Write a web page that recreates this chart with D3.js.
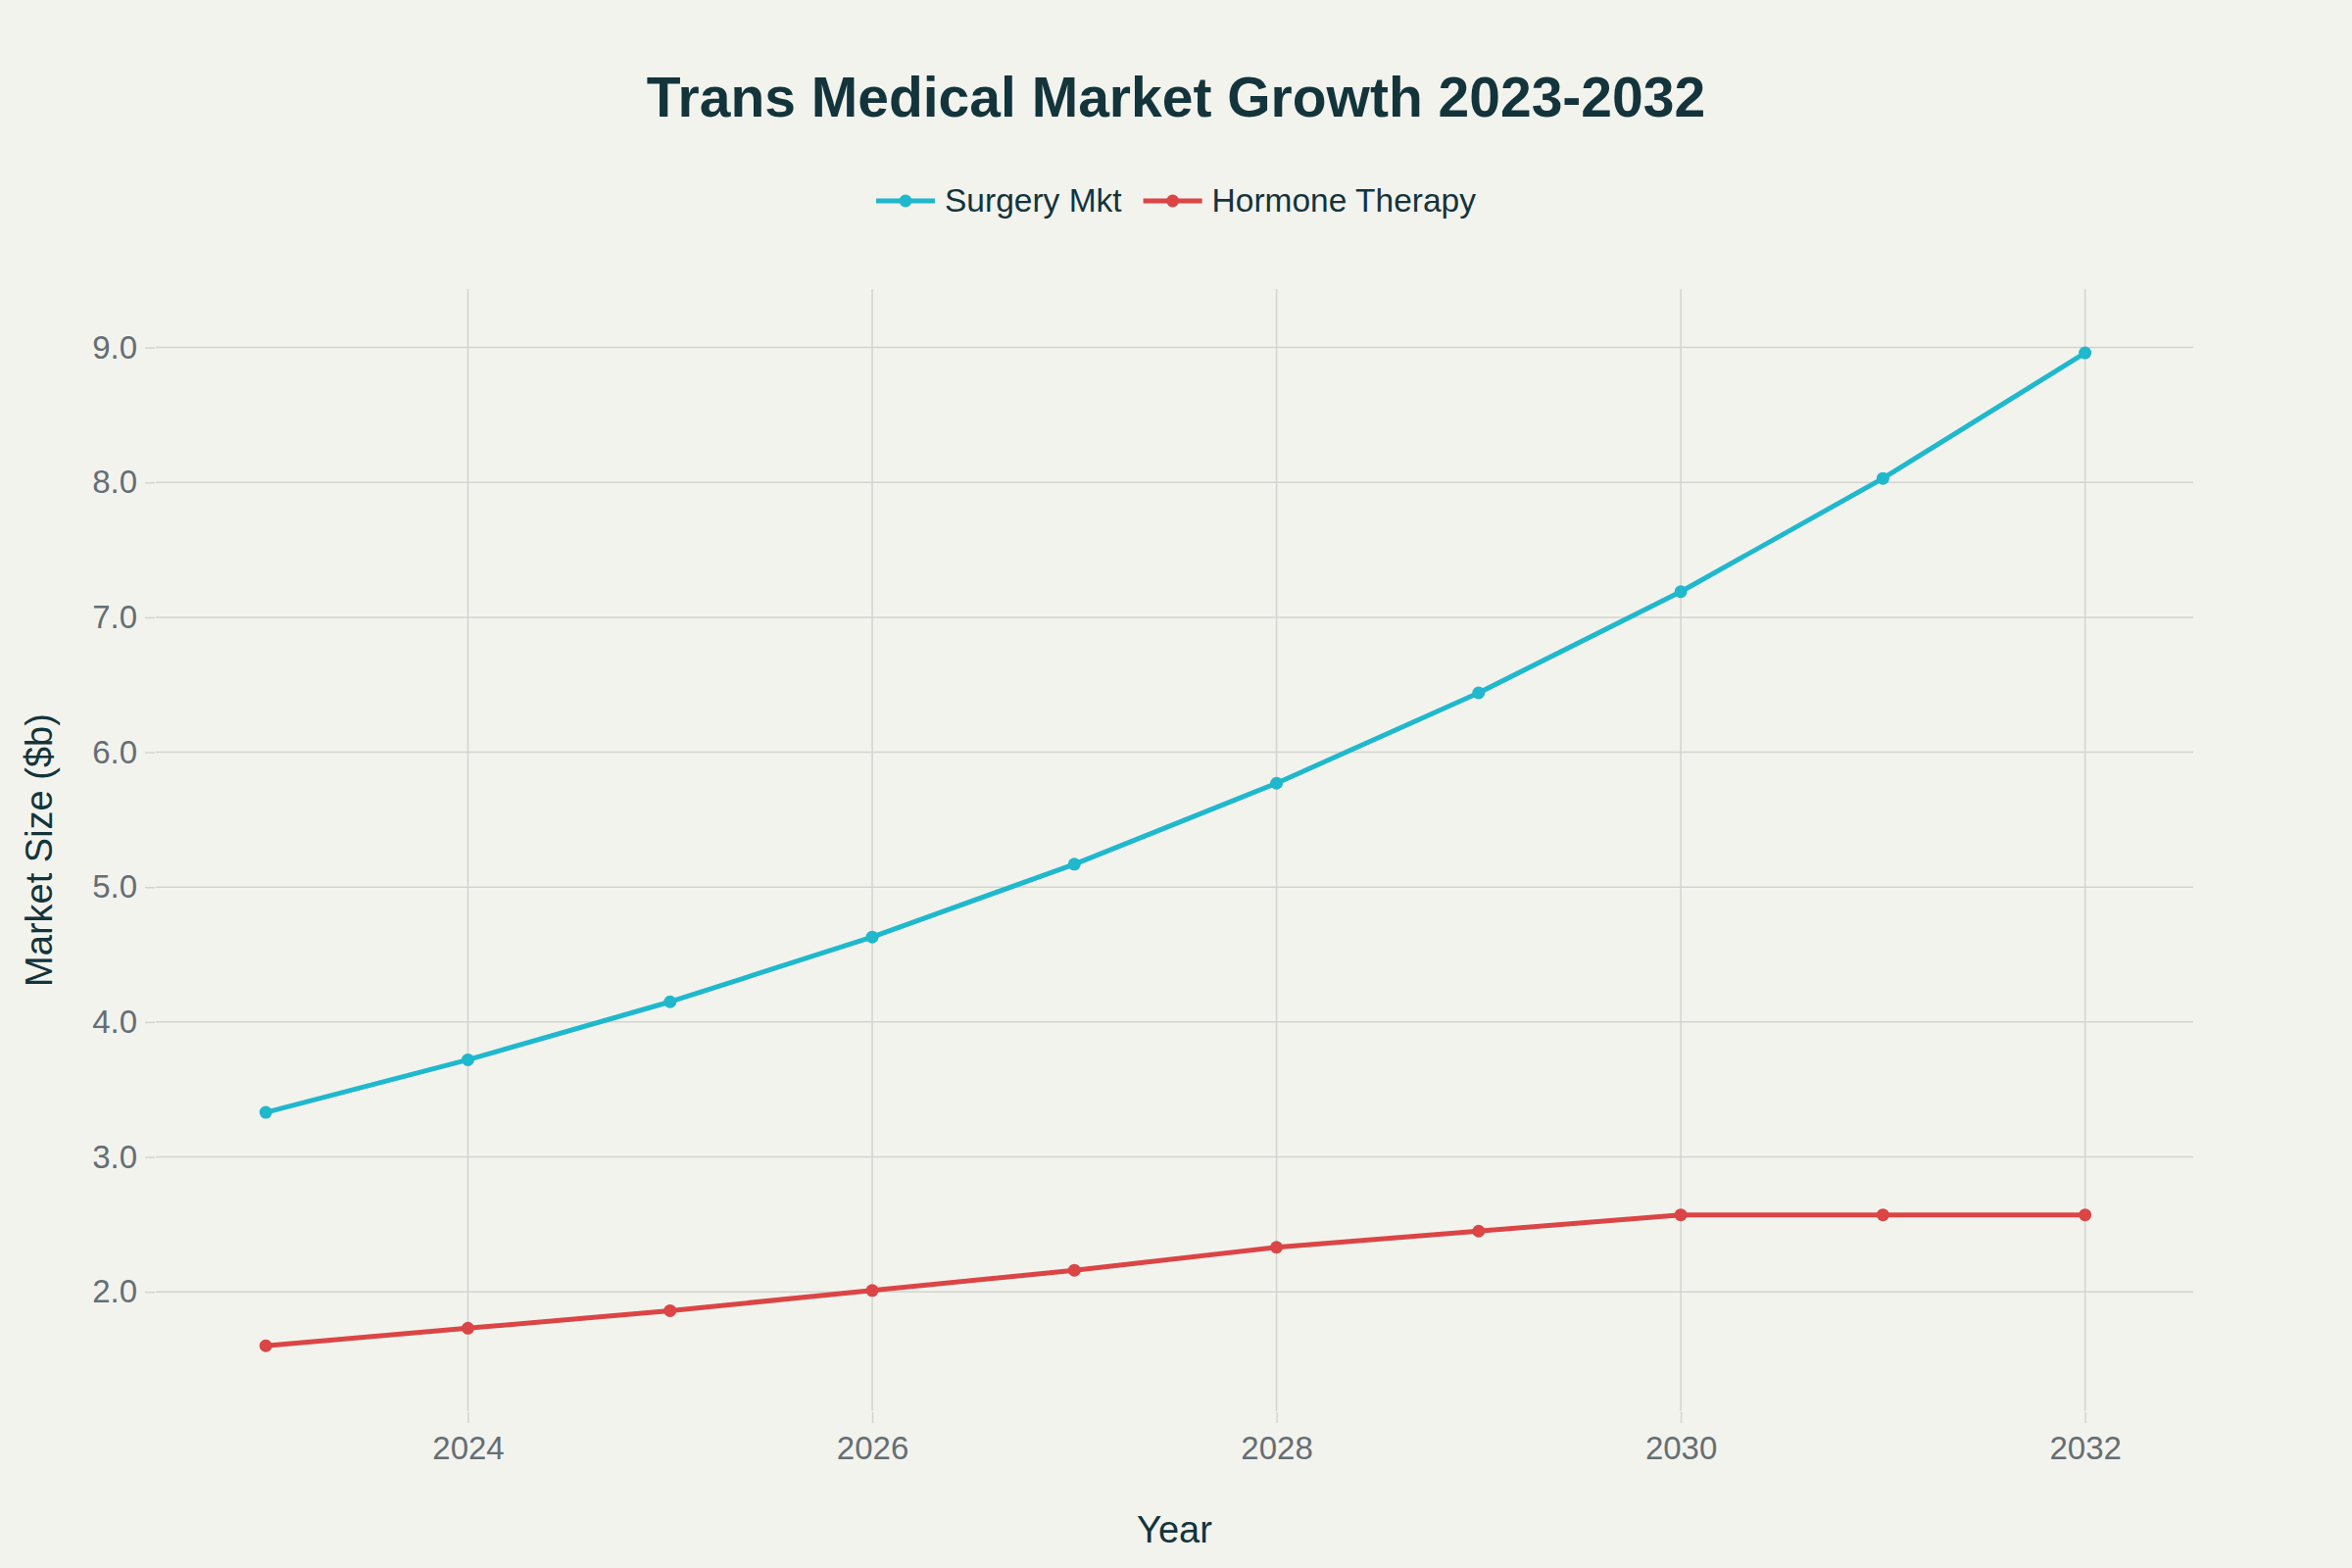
<!DOCTYPE html>
<html>
<head>
<meta charset="utf-8">
<script src="https://cdn.jsdelivr.net/npm/d3@7"></script>
<style>
  html, body { margin: 0; padding: 0; background: #F3F3EE; }
  svg { display: block; font-family: "Liberation Sans", Arial, sans-serif; }
  .grid line { stroke: #D3D3D0; stroke-width: 1.5; }
  .tick-label { fill: #646E73; font-size: 33px; }
  .axis-title { fill: #13343B; font-size: 38px; }
</style>
</head>
<body>
<svg id="chart"></svg>
<script>
const years = [2023, 2024, 2025, 2026, 2027, 2028, 2029, 2030, 2031, 2032];
const surgeryMkt = [3.33, 3.72, 4.15, 4.63, 5.17, 5.77, 6.44, 7.19, 8.03, 8.96];
const hormoneTherapy = [1.60, 1.73, 1.86, 2.01, 2.16, 2.33, 2.45, 2.57, 2.57, 2.57];
const seriesNames = ["Surgery Mkt", "Hormone Therapy"];
const xTickValues = [2024, 2026, 2028, 2030, 2032];
const yTickValues = [2, 3, 4, 5, 6, 7, 8, 9];

document.addEventListener('DOMContentLoaded', function() {
  const width = 2400;
  const height = 1600;
  const margin = { top: 295, right: 162, bottom: 160, left: 159 };
  const colors = ["#1FB8CD", "#DB4545"];

  const series = [surgeryMkt, hormoneTherapy].map((vals, i) => ({
    name: seriesNames[i],
    color: colors[i],
    values: vals.map((v, j) => ({ year: years[j], value: v }))
  }));

  const svg = d3.select("#chart")
    .attr("width", width)
    .attr("height", height);

  svg.append("rect")
    .attr("width", width)
    .attr("height", height)
    .attr("fill", "#F3F3EE");

  const x = d3.scaleLinear()
    .domain([2022.456, 2032.535])
    .range([margin.left, width - margin.right]);

  const y = d3.scaleLinear()
    .domain([1.115, 9.433])
    .range([height - margin.bottom, margin.top]);

  // grid
  svg.append("g")
    .attr("class", "grid")
    .selectAll("line")
    .data(xTickValues)
    .enter().append("line")
    .attr("x1", d => x(d))
    .attr("x2", d => x(d))
    .attr("y1", margin.top)
    .attr("y2", height - margin.bottom);

  svg.append("g")
    .attr("class", "grid")
    .selectAll("line")
    .data(yTickValues)
    .enter().append("line")
    .attr("x1", margin.left)
    .attr("x2", width - margin.right)
    .attr("y1", d => y(d))
    .attr("y2", d => y(d));

  // x axis
  const xAxis = svg.append("g")
    .attr("transform", `translate(0, ${height - margin.bottom + 1})`)
    .call(d3.axisBottom(x).tickValues(xTickValues).tickFormat(d3.format("d")).tickSize(11).tickPadding(14));
  xAxis.select(".domain").remove();
  xAxis.selectAll(".tick line").attr("stroke", "#D3D3D0").attr("stroke-width", 1.5);
  xAxis.selectAll(".tick text").attr("class", "tick-label").attr("fill", null).attr("font-size", null).attr("font-family", null);

  // y axis
  const yAxis = svg.append("g")
    .attr("transform", `translate(${margin.left - 1}, 0)`)
    .call(d3.axisLeft(y).tickValues(yTickValues).tickFormat(d3.format(".1f")).tickSize(10).tickPadding(8));
  yAxis.select(".domain").remove();
  yAxis.selectAll(".tick line").attr("stroke", "#D3D3D0").attr("stroke-width", 1.5);
  yAxis.selectAll(".tick text").attr("class", "tick-label").attr("fill", null).attr("font-size", null).attr("font-family", null);

  // lines
  const line = d3.line()
    .x(d => x(d.year))
    .y(d => y(d.value));

  const traces = svg.append("g")
    .selectAll("g")
    .data(series.slice().reverse())
    .enter().append("g");

  traces.append("path")
    .attr("d", d => line(d.values))
    .attr("fill", "none")
    .attr("stroke", d => d.color)
    .attr("stroke-width", 5)
    .attr("stroke-linejoin", "round");

  traces.selectAll("circle")
    .data(d => d.values.map(v => ({ ...v, color: d.color })))
    .enter().append("circle")
    .attr("cx", d => x(d.year))
    .attr("cy", d => y(d.value))
    .attr("r", 6.5)
    .attr("fill", d => d.color);

  // title
  svg.append("text")
    .attr("x", width / 2)
    .attr("y", 119)
    .attr("text-anchor", "middle")
    .attr("font-size", 57)
    .attr("font-weight", "bold")
    .attr("fill", "#13343B")
    .text("Trans Medical Market Growth 2023-2032");

  // axis titles
  svg.append("text")
    .attr("class", "axis-title")
    .attr("x", (margin.left + width - margin.right) / 2)
    .attr("y", 1574)
    .attr("text-anchor", "middle")
    .text("Year");

  svg.append("text")
    .attr("class", "axis-title")
    .attr("transform", `translate(53, ${(margin.top + height - margin.bottom) / 2}) rotate(-90)`)
    .attr("text-anchor", "middle")
    .text("Market Size ($b)");

  // legend
  const legend = svg.append("g");
  let offset = 0;
  series.forEach(s => {
    const item = legend.append("g").attr("transform", `translate(${offset}, 0)`);
    item.append("line")
      .attr("x1", 0).attr("x2", 60)
      .attr("y1", 0).attr("y2", 0)
      .attr("stroke", s.color)
      .attr("stroke-width", 5);
    item.append("circle")
      .attr("cx", 30).attr("cy", 0).attr("r", 6.5)
      .attr("fill", s.color);
    const label = item.append("text")
      .attr("x", 70)
      .attr("y", 11)
      .attr("font-size", 33.5)
      .attr("fill", "#13343B")
      .text(s.name);
    offset += 70 + label.node().getComputedTextLength() + 22;
  });
  const legendWidth = offset - 22;
  legend.attr("transform", `translate(${(width - legendWidth) / 2}, 205)`);
});
</script>
</body>
</html>
